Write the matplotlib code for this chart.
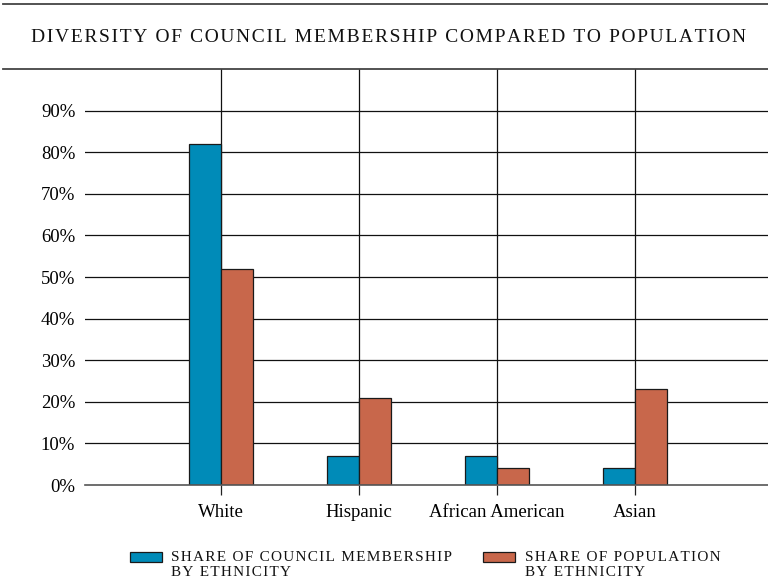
import matplotlib
matplotlib.use("Agg")
import matplotlib.pyplot as plt
import numpy as np
from matplotlib.patches import Rectangle
from matplotlib.lines import Line2D

categories = ["White", "Hispanic", "African American", "Asian"]
council_share = [82, 7, 7, 4]
population_share = [52, 21, 4, 23]
y_ticks = [0, 10, 20, 30, 40, 50, 60, 70, 80, 90]
y_tick_labels = ["0%", "10%", "20%", "30%", "40%", "50%", "60%", "70%", "80%", "90%"]
series_labels = ["SHARE OF COUNCIL MEMBERSHIP\nBY ETHNICITY",
                 "SHARE OF POPULATION\nBY ETHNICITY"]
title = "DIVERSITY OF COUNCIL MEMBERSHIP COMPARED TO POPULATION"

BLUE = "#008bb8"
ORANGE = "#c8674b"
plt.rcParams["font.family"] = ["Liberation Serif", "DejaVu Serif"]


def spaced(s, gap="\u200a"):
    return "\n".join(gap.join(line) for line in s.split("\n"))


fig = plt.figure(figsize=(7.68, 5.80), dpi=100)
W, H = 768, 580
ax = fig.add_axes([85 / W, 1 - 485 / H, (768 - 85) / W, (485 - 69) / H])

x = np.arange(len(categories))
bw = 0.232
ax.bar(x - bw / 2, council_share, bw, color=BLUE, edgecolor="#1a1a1a", linewidth=0.9, zorder=3)
ax.bar(x + bw / 2, population_share, bw, color=ORANGE, edgecolor="#1a1a1a", linewidth=0.9, zorder=3)

ax.set_xlim(-0.986, 3.964)
ax.set_ylim(0, 100)
ax.set_yticks(y_ticks)
ax.set_yticklabels(y_tick_labels, fontsize=13.5)
ax.set_xticks(x)
ax.set_xticklabels(categories, fontsize=13.5)
ax.tick_params(axis="y", length=0, pad=7)
ax.tick_params(axis="x", length=7.5, width=0.9, color="#222222", pad=6.5)

for v in y_ticks[1:]:
    ax.axhline(v, color="#111111", linewidth=0.9, zorder=1)
for xi in x:
    ax.axvline(xi, color="#111111", linewidth=0.9, zorder=1)
for side in ["left", "right", "top"]:
    ax.spines[side].set_visible(False)
ax.spines["bottom"].set_color("#555555")
ax.spines["bottom"].set_linewidth(1.2)
ax.spines["bottom"].set_zorder(4)

# framing rules above and below the title
for yy in (4, 69):
    fig.add_artist(Line2D([3 / W, 1], [1 - yy / H] * 2, color="#444444", linewidth=1.3))

fig.text(389 / W, 1 - 37 / H, spaced(title), ha="center", va="center", fontsize=14,
         color="#111111")

# legend
for px, col, lab, tx in [(130, BLUE, series_labels[0], 171), (483, ORANGE, series_labels[1], 525)]:
    fig.add_artist(Rectangle((px / W, 1 - 562 / H), 32 / W, 10 / H, facecolor=col,
                             edgecolor="#1a1a1a", linewidth=0.9))
    fig.text(tx / W, 1 - 551 / H, spaced(lab, "\u200a"), ha="left", va="top", fontsize=11,
             color="#111111", linespacing=1.15)

fig.savefig("out.png", dpi=100)
